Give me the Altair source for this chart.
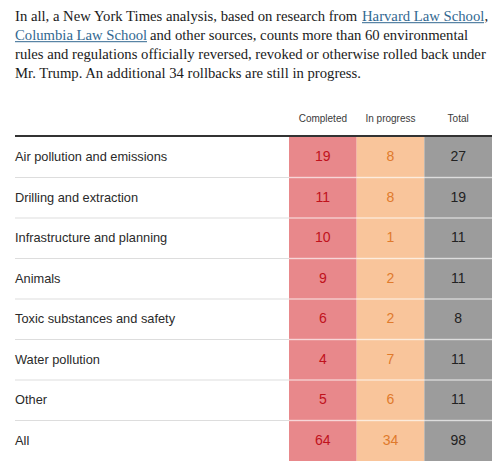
import altair as alt
import pandas as pd

categories = [
    "Air pollution and emissions",
    "Drilling and extraction",
    "Infrastructure and planning",
    "Animals",
    "Toxic substances and safety",
    "Water pollution",
    "Other",
    "All",
]
columns = ["Completed", "In progress", "Total"]
completed = [19, 11, 10, 9, 6, 4, 5, 64]
in_progress = [8, 8, 1, 2, 2, 7, 6, 34]
total = [27, 19, 11, 11, 8, 11, 11, 98]

cell_fill = ["#e8888b", "#f9c59b", "#9c9c9c"]
cell_text = ["#c0121c", "#e07a2c", "#222222"]

rows = []
for i, cat in enumerate(categories):
    for col, vals in zip(columns, [completed, in_progress, total]):
        rows.append({"cat": cat, "col": col, "value": vals[i]})
cells = pd.DataFrame(rows)
cats_df = pd.DataFrame({"cat": categories})
cols_df = pd.DataFrame({"col": columns})

SANS = "Liberation Sans"
SERIF = "Liberation Serif"
TXT = "#1a1a1a"
LINK = "#326891"

xs = alt.Scale(domain=columns, range=[281, 484], paddingInner=0, paddingOuter=0)
ys = alt.Scale(domain=categories, range=[129, 453], paddingInner=0, paddingOuter=0)

X = alt.X("col:N", scale=xs, axis=None)
Y = alt.Y("cat:N", scale=ys, axis=None)

rects = alt.Chart(cells).mark_rect().encode(
    x=X, y=Y,
    color=alt.Color("col:N", scale=alt.Scale(domain=columns, range=cell_fill), legend=None),
)
nums = alt.Chart(cells).mark_text(font=SANS, fontSize=14, baseline="middle", align="center").encode(
    x=X, y=Y, text=alt.Text("value:Q"),
    color=alt.Color("col:N", scale=alt.Scale(domain=columns, range=cell_text), legend=None),
)
labels = alt.Chart(cats_df).mark_text(font=SANS, fontSize=12.8, align="left", baseline="middle", color="#2a2a2a").encode(
    x=alt.value(7), y=Y, text="cat:N"
)
sep_left = alt.Chart(cats_df).transform_filter(alt.datum.cat != "All").mark_rule(color="#dddddd", strokeWidth=1).encode(
    x=alt.value(7), x2=alt.value(281), y=alt.Y("cat:N", scale=ys, axis=None, bandPosition=1)
)
sep_cells = alt.Chart(cats_df).transform_filter(alt.datum.cat != "All").mark_rule(color="white", strokeWidth=1.5, opacity=0.55).encode(
    x=alt.value(281), x2=alt.value(484), y=alt.Y("cat:N", scale=ys, axis=None, bandPosition=1)
)
headers = alt.Chart(cols_df).mark_text(font=SANS, fontSize=10, align="center", baseline="alphabetic", color="#3a3a3a").encode(
    x=X, y=alt.value(114), text="col:N"
)
top_rule = alt.Chart(alt.Data(values=[{}])).mark_rule(color="#333333", strokeWidth=2).encode(
    x=alt.value(7), x2=alt.value(484), y=alt.value(128)
)

def para(text, x, y, color=TXT):
    return alt.Chart(alt.Data(values=[{}])).mark_text(
        font=SERIF, fontSize=14.7, align="left", baseline="alphabetic", color=color
    ).encode(x=alt.value(x), y=alt.value(y), text=alt.value(text))

def underline(x1, x2, y):
    return alt.Chart(alt.Data(values=[{}])).mark_rule(color=LINK, strokeWidth=1).encode(
        x=alt.value(x1), x2=alt.value(x2), y=alt.value(y)
    )

paragraph = [
    para("In all, a New York Times analysis, based on research from", 7, 12.5),
    para("Harvard Law School", 354, 12.5, LINK),
    para(",", 476.5, 12.5),
    underline(354, 476, 14.7),
    para("Columbia Law School", 7, 31.5, LINK),
    underline(7, 139, 33.7),
    para("and other sources, counts more than 60 environmental", 142, 31.5),
    para("rules and regulations officially reversed, revoked or otherwise rolled back under", 7, 50.5),
    para("Mr. Trump. An additional 34 rollbacks are still in progress.", 7, 69.5),
]

chart = alt.layer(
    rects, sep_cells, nums, sep_left, labels, headers, top_rule, *paragraph
).resolve_scale(color="independent").properties(
    width=488, height=453, autosize=alt.AutoSizeParams(type="none"), padding=0,
    background="white",
).configure_view(stroke=None)

chart.save("out.html", embed_options={"renderer": "svg", "actions": False})
